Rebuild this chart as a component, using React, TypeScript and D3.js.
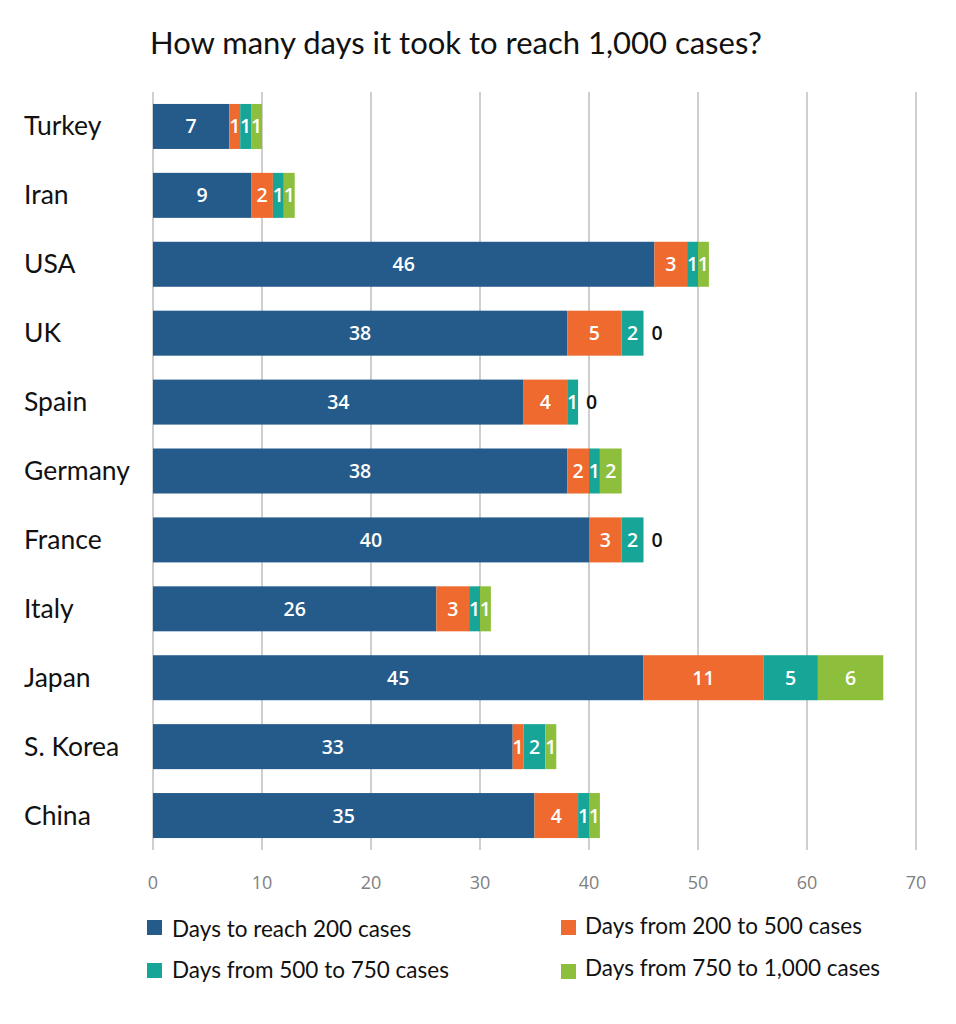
import React from "react";
import * as d3 from "d3";

const countries = ["Turkey", "Iran", "USA", "UK", "Spain", "Germany", "France", "Italy", "Japan", "S. Korea", "China"];
const to200 = [7, 9, 46, 38, 34, 38, 40, 26, 45, 33, 35];
const from200to500 = [1, 2, 3, 5, 4, 2, 3, 3, 11, 1, 4];
const from500to750 = [1, 1, 1, 2, 1, 1, 2, 1, 5, 2, 1];
const from750to1000 = [1, 1, 1, 0, 0, 2, 0, 1, 6, 1, 1];
const seriesNames = [
  "Days to reach 200 cases",
  "Days from 200 to 500 cases",
  "Days from 500 to 750 cases",
  "Days from 750 to 1,000 cases",
];
const seriesColors = ["#255b8a", "#ee6a2e", "#17a597", "#8dbf3c"];
const xTicks = [0, 10, 20, 30, 40, 50, 60, 70];
const title = "How many days it took to reach 1,000 cases?";

const W = 956;
const H = 1024;
const FONT = "Lato, 'Open Sans', sans-serif";
const LABEL_FONT = "'Open Sans', sans-serif";

export default function App() {
  const series = [to200, from200to500, from500to750, from750to1000];
  const rows = countries.map((c, i) => {
    const r: any = { country: c };
    series.forEach((s, k) => (r["s" + k] = s[i]));
    return r;
  });
  const keys = ["s0", "s1", "s2", "s3"];
  const stacked = d3.stack().keys(keys)(rows);

  const x = d3.scaleLinear().domain([0, 70]).range([153, 916]);
  const y = d3
    .scaleBand<string>()
    .domain(countries)
    .range([92, 850])
    .paddingInner(0.347)
    .paddingOuter(0.1735);

  const legendItems = [
    { k: 0, sx: 147, sy: 920, tx: 172, ty: 937 },
    { k: 1, sx: 561, sy: 920, tx: 585, ty: 934 },
    { k: 2, sx: 147, sy: 963, tx: 172, ty: 978 },
    { k: 3, sx: 561, sy: 964, tx: 585, ty: 976 },
  ];

  return (
    <div style={{ position: "absolute", left: 0, top: 0 }}>
      <svg width={W} height={H} style={{ display: "block", background: "#fff" }}>
        <text x={150} y={54} fontFamily={FONT} fontSize={31} fill="#111">
          {title}
        </text>

        {xTicks.map((t) => (
          <g key={t}>
            <line x1={x(t)} x2={x(t)} y1={92} y2={850} stroke="#bfbfbf" strokeWidth={1.5} />
            <text
              x={x(t)}
              y={889}
              textAnchor="middle"
              fontFamily={LABEL_FONT}
              fontSize={18}
              fill="#808080"
            >
              {t}
            </text>
          </g>
        ))}

        {countries.map((c) => (
          <text
            key={c}
            x={24}
            y={(y(c) as number) + y.bandwidth() / 2 + 9}
            fontFamily={FONT}
            fontSize={26.5}
            fill="#111"
          >
            {c}
          </text>
        ))}

        {stacked.map((layer, k) => (
          <g key={layer.key}>
            {layer.map((d, i) => {
              const c = countries[i];
              const v = d[1] - d[0];
              const yy = y(c) as number;
              const cy = yy + y.bandwidth() / 2 + 7;
              return (
                <g key={c}>
                  {v > 0 && (
                    <rect
                      x={x(d[0])}
                      y={yy}
                      width={x(d[1]) - x(d[0])}
                      height={y.bandwidth()}
                      fill={seriesColors[k]}
                    />
                  )}
                  {v > 0 ? (
                    <text
                      x={(x(d[0]) + x(d[1])) / 2}
                      y={cy}
                      textAnchor="middle"
                      fontFamily={LABEL_FONT}
                      fontWeight={600}
                      fontSize={19.5}
                      fill="#fff"
                    >
                      {v}
                    </text>
                  ) : (
                    <text
                      x={x(d[1]) + 8}
                      y={cy}
                      textAnchor="start"
                      fontFamily={LABEL_FONT}
                      fontWeight={600}
                      fontSize={19.5}
                      fill="#111"
                    >
                      {v}
                    </text>
                  )}
                </g>
              );
            })}
          </g>
        ))}

        {legendItems.map((l) => (
          <g key={l.k}>
            <rect x={l.sx} y={l.sy} width={15} height={15} fill={seriesColors[l.k]} />
            <text x={l.tx} y={l.ty} fontFamily={FONT} fontSize={22.5} fill="#111">
              {seriesNames[l.k]}
            </text>
          </g>
        ))}
      </svg>
    </div>
  );
}
